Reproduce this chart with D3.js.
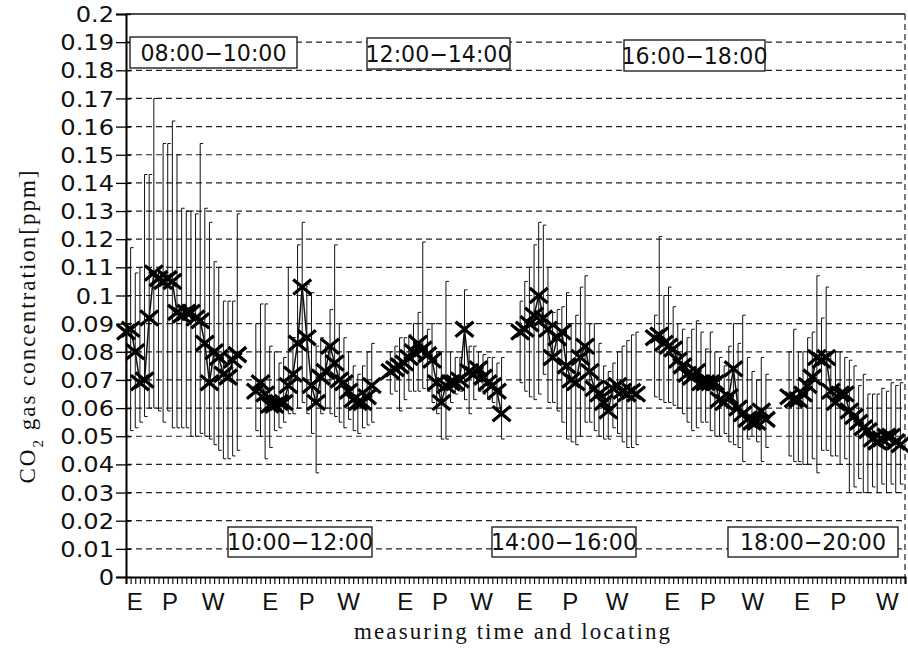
<!DOCTYPE html>
<html><head><meta charset="utf-8">
<script src="https://cdn.jsdelivr.net/npm/d3@7"></script>
<style>body{margin:0;background:#fff}</style>
</head><body>
<svg id="c" width="908" height="655"></svg>
<script>
// ---------------- DATA ----------------
// measurement slot at which each time window starts
const groupStart = [0, 28, 57, 85, 114, 143];
const groupTimes = ["08:00−10:00","10:00−12:00","12:00−14:00","14:00−16:00","16:00−18:00","18:00−20:00"];

const mean0810 = [.087,.088,.080,.069,.070,.092,.108,.106,.105,.106,.105,.094,.093,.094,.094,.092,.091,.083,.069,.080,.078,.072,.071,.077,.079];
const low0810  = [.050,.052,.053,.055,.057,.060,.060,.059,.055,.059,.053,.053,.053,.053,.050,.050,.051,.050,.049,.047,.045,.042,.042,.043,.045];
const high0810 = [.120,.117,.108,.110,.143,.143,.170,.110,.154,.154,.162,.150,.131,.130,.130,.129,.154,.131,.126,.112,.110,.098,.098,.098,.129];

const mean1012 = [.066,.069,.065,.061,.061,.062,.062,.068,.072,.083,.103,.085,.068,.062,.071,.073,.082,.076,.070,.069,.066,.063,.062,.062,.064,.068];
const low1012  = [.052,.050,.042,.046,.052,.053,.055,.058,.058,.060,.062,.058,.051,.037,.058,.060,.058,.057,.055,.053,.056,.052,.051,.053,.054,.055];
const high1012 = [.090,.097,.097,.082,.080,.076,.078,.110,.085,.118,.126,.104,.101,.082,.085,.082,.095,.118,.090,.085,.080,.075,.072,.075,.080,.083];

const mean1214 = [.073,.074,.075,.076,.078,.080,.083,.081,.079,.077,.069,.062,.068,.069,.069,.070,.088,.073,.072,.074,.071,.069,.068,.066,.058];
const low1214  = [.065,.066,.059,.063,.066,.066,.066,.067,.066,.062,.058,.049,.049,.062,.065,.066,.063,.058,.063,.066,.065,.063,.062,.060,.049];
const high1214 = [.080,.082,.085,.085,.086,.090,.094,.119,.088,.090,.080,.080,.105,.080,.078,.078,.102,.082,.082,.080,.079,.078,.078,.076,.078];

const mean1416 = [.087,.088,.090,.093,.100,.092,.088,.078,.085,.087,.075,.070,.069,.078,.082,.073,.067,.065,.062,.059,.067,.068,.066,.065,.066,.065];
const low1416  = [.069,.066,.064,.063,.065,.072,.062,.062,.059,.055,.049,.048,.047,.050,.055,.055,.052,.050,.049,.049,.053,.051,.048,.046,.046,.047];
const high1416 = [.098,.105,.110,.118,.126,.125,.110,.094,.095,.096,.101,.090,.093,.103,.107,.090,.090,.083,.075,.073,.076,.080,.082,.084,.086,.087];

const mean1618 = [.085,.086,.083,.082,.081,.077,.075,.072,.071,.073,.069,.069,.069,.069,.063,.062,.064,.074,.060,.058,.056,.055,.055,.059,.056];
const low1618  = [.064,.063,.062,.062,.061,.060,.058,.055,.052,.053,.055,.055,.052,.050,.050,.051,.048,.047,.046,.041,.049,.050,.048,.041,.046];
const high1618 = [.093,.121,.100,.103,.096,.090,.088,.085,.088,.091,.087,.081,.087,.080,.078,.075,.082,.090,.083,.093,.078,.073,.070,.078,.072];

const mean1820 = [.064,.063,.063,.065,.068,.071,.078,.077,.078,.066,.062,.065,.065,.059,.057,.055,.053,.052,.049,.048,.049,.050,.050,.048,.047];
const low1820  = [.043,.041,.041,.040,.040,.042,.037,.045,.045,.043,.043,.040,.042,.030,.032,.035,.030,.030,.032,.030,.033,.030,.033,.030,.033];
const high1820 = [.080,.088,.080,.080,.085,.087,.107,.092,.103,.080,.080,.080,.078,.077,.075,.068,.072,.065,.065,.065,.067,.066,.069,.068,.069];

const groupMeans = [mean0810, mean1012, mean1214, mean1416, mean1618, mean1820];
const groupLows  = [low0810, low1012, low1214, low1416, low1618, low1820];
const groupHighs = [high0810, high1012, high1214, high1416, high1618, high1820];

const yTickValues = d3.range(0, 21).map(i => +(i / 100).toFixed(2));
const yTickLabels = ["0","0.01","0.02","0.03","0.04","0.05","0.06","0.07","0.08","0.09","0.1",
                     "0.11","0.12","0.13","0.14","0.15","0.16","0.17","0.18","0.19","0.2"];
const locLabels = ["E","P","W","E","P","W","E","P","W","E","P","W","E","P","W","E","P","W"];
const locSlots  = [1.9,9.5,18.8, 31.1,39.0,48.0, 60.2,67.7,76.7, 86.0,95.8,105.9, 117.8,125.5,135.2, 145.8,153.6,164.2];
const totalSlots = 168;

// ---------------- LAYOUT ----------------
const L = 126, R = 905, T = 14, B = 577;
const svg = d3.select("#c");
const x = d3.scaleLinear().domain([0, totalSlots]).range([L, R]);
const y = d3.scaleLinear().domain([0, 0.2]).range([B, T]);

const points = [];
groupMeans.forEach((arr, g) => arr.forEach((m, i) => points.push({
  g, slot: groupStart[g] + i, mean: m, lo: groupLows[g][i], hi: groupHighs[g][i]
})));

// grid
svg.append("g").selectAll("line").data(yTickValues.filter(v => v > 0 && v < 0.2)).join("line")
  .attr("x1", L).attr("x2", R).attr("y1", d => y(d)).attr("y2", d => y(d))
  .attr("stroke", "#222").attr("stroke-width", 1.2).attr("stroke-dasharray", "6,4");
// top border solid, right border dashed
svg.append("line").attr("x1", L).attr("x2", R).attr("y1", y(0.2)).attr("y2", y(0.2))
  .attr("stroke", "#111").attr("stroke-width", 1.5);
svg.append("line").attr("x1", R).attr("x2", R).attr("y1", y(0.2)).attr("y2", y(0))
  .attr("stroke", "#222").attr("stroke-width", 1.2).attr("stroke-dasharray", "6,4");

// error bars
const eb = svg.append("g").attr("stroke", "#111").attr("stroke-width", 1).attr("fill", "none");
eb.selectAll("path").data(points).join("path")
  .attr("d", d => {
    const px = x(d.slot), yl = y(d.lo), yh = y(d.hi);
    return `M${px},${yl}V${yh}h3M${px},${yl}h3`;
  });

// connecting lines within each time window
const line = d3.line().x(d => x(d.slot)).y(d => y(d.mean));
svg.append("g").selectAll("path").data(d3.groups(points, d => d.g)).join("path")
  .attr("d", d => line(d[1])).attr("fill", "none").attr("stroke", "#111").attr("stroke-width", 1.5);

// markers
svg.append("g").selectAll("path").data(points).join("path")
  .attr("transform", d => `translate(${x(d.slot)},${y(d.mean)})`)
  .attr("d", "M-9,-7.5L9,7.5M-9,7.5L9,-7.5")
  .attr("stroke", "#000").attr("stroke-width", 3.3).attr("fill", "none");

// y axis
const yAxis = d3.axisLeft(y).tickValues(yTickValues).tickSize(10)
  .tickFormat((d, i) => yTickLabels[i]);
const ya = svg.append("g").attr("transform", `translate(${L},0)`).call(yAxis);
ya.select(".domain").attr("stroke", "#000").attr("stroke-width", 2);
ya.selectAll(".tick line").attr("x2", -10).attr("x1", 5).attr("stroke", "#000").attr("stroke-width", 1.3);
ya.selectAll(".tick text").attr("x", -12 / 1.15).attr("dy", "0.36em")
  .attr("transform", "scale(1.15,1)")
  .style("font-family", "DejaVu Sans").style("font-size", "21px")
  .attr("fill", "#111");

// x axis with one tick per measurement slot
const xAxis = d3.axisBottom(x).tickValues(d3.range(0, totalSlots + 1)).tickSize(7).tickFormat("");
const xa = svg.append("g").attr("transform", `translate(0,${B})`).call(xAxis);
xa.select(".domain").attr("stroke", "#000").attr("stroke-width", 2);
xa.selectAll(".tick line").attr("stroke", "#000").attr("stroke-width", 1.1);

svg.append("g").selectAll("text").data(locLabels).join("text")
  .attr("x", (d, i) => x(locSlots[i])).attr("y", 610)
  .attr("text-anchor", "middle")
  .style("font-family", "Liberation Sans").style("font-size", "24px").attr("fill", "#111")
  .text(d => d);

// axis titles
svg.append("text").attr("x", 512).attr("y", 639).attr("text-anchor", "middle")
  .attr("textLength", 316).attr("lengthAdjust", "spacing")
  .style("font-family", "Liberation Serif").style("font-size", "23px").attr("fill", "#111")
  .text("measuring time and locating");

const yt = svg.append("text").attr("transform", "translate(35,327) rotate(-90)").attr("text-anchor", "middle")
  .attr("textLength", 313).attr("lengthAdjust", "spacing")
  .style("font-family", "Liberation Serif").style("font-size", "23px").attr("fill", "#111");
yt.append("tspan").text("CO");
yt.append("tspan").attr("baseline-shift", "sub").style("font-size", "15px").text("2");
yt.append("tspan").text(" gas concentration[ppm]");

// time window boxes
const boxes = [
  {t: 0, x0: 130, x1: 297, y0: 37, y1: 68},
  {t: 2, x0: 367, x1: 510, y0: 38, y1: 69},
  {t: 4, x0: 624, x1: 765, y0: 40, y1: 71},
  {t: 1, x0: 228, x1: 372, y0: 527, y1: 557},
  {t: 3, x0: 492, x1: 636, y0: 527, y1: 557},
  {t: 5, x0: 728, x1: 898, y0: 527, y1: 557}
];
const bx = svg.append("g").selectAll("g").data(boxes).join("g");
bx.append("rect").attr("x", d => d.x0).attr("y", d => d.y0)
  .attr("width", d => d.x1 - d.x0).attr("height", d => d.y1 - d.y0)
  .attr("fill", "#fff").attr("stroke", "#111").attr("stroke-width", 1.3);
bx.append("text").attr("x", d => (d.x0 + d.x1) / 2).attr("y", d => (d.y0 + d.y1) / 2 + 8)
  .attr("text-anchor", "middle").attr("textLength", 146).attr("lengthAdjust", "spacingAndGlyphs")
  .style("font-family", "DejaVu Sans").style("font-size", "23px").attr("fill", "#111")
  .text(d => groupTimes[d.t]);
</script>
</body></html>
